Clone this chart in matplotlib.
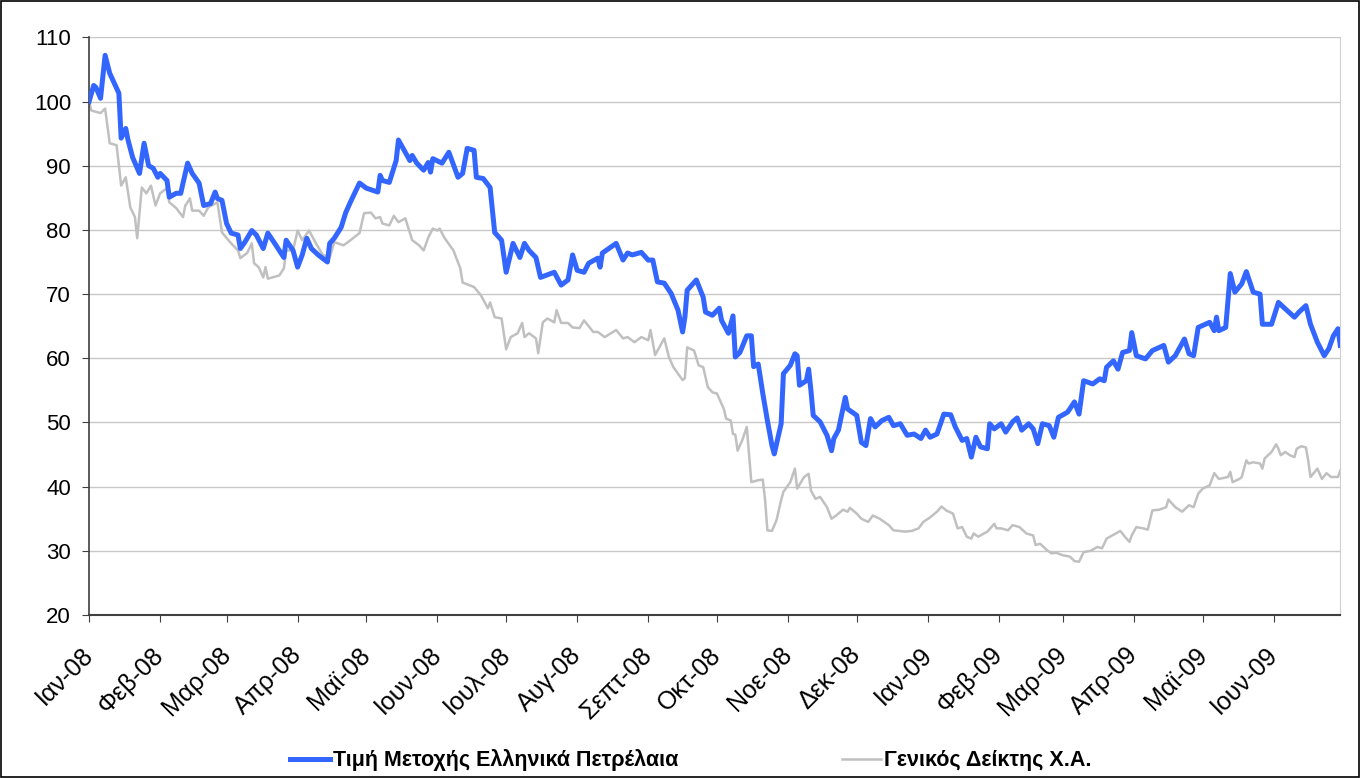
import numpy as np
import pandas as pd
import matplotlib
matplotlib.use("Agg")
from matplotlib import pyplot as plt
import matplotlib.dates as mdates
from matplotlib.patches import Rectangle
from matplotlib.transforms import ScaledTranslation

plt.rcParams['font.family'] = ['Liberation Sans', 'DejaVu Sans']

# days counted from 2008-01-01
start_date = "2008-01-01"
end_date = "2009-06-30"

stock_days = [0, 2, 3, 5, 7, 9, 13, 14, 16, 17, 19, 22, 24, 26, 28, 30, 31, 34, 35, 38,
              40, 41, 43, 45, 48, 50, 53, 55, 56, 58, 60, 62, 65, 66, 68, 71, 73, 76, 78, 81,
              85, 86, 89, 91, 93, 95, 97, 100, 104, 105, 107, 110, 112, 114, 118, 121, 126, 127, 128, 131,
              134, 135, 138, 140, 141, 143, 146, 148, 149, 150, 154, 157, 161, 163, 165, 168, 169, 172, 175, 177,
              180, 182, 185, 188, 190, 192, 195, 197, 203, 206, 209, 211, 213, 216, 218, 222, 223, 224, 230, 233,
              235, 237, 241, 244, 246, 248, 251, 254, 257, 259, 260, 261, 265, 268, 269, 272, 275, 276, 279, 281,
              282, 284, 287, 289, 290, 292, 294, 296, 298, 299, 302, 303, 306, 308, 309, 310, 313, 314, 315, 316,
              319, 322, 324, 325, 327, 330, 331, 335, 337, 339, 341, 343, 346, 349, 351, 354, 357, 360, 363, 365,
              367, 370, 373, 376, 378, 381, 383, 385, 387, 389, 392, 393, 395, 398, 400, 403, 405, 407, 410, 412,
              414, 416, 419, 421, 423, 427, 430, 432, 434, 438, 441, 443, 444, 447, 449, 451, 454, 455, 457, 461,
              464, 469, 471, 474, 478, 480, 482, 484, 489, 491, 492, 493, 496, 498, 500, 503, 505, 508, 511, 512,
              516, 519, 522, 526, 528, 531, 533, 536, 539, 541, 543, 545, 546]
stock_vals = [100, 102.5, 102.2, 100.5, 107.2, 104.4, 101.3, 94.3, 95.8, 94, 91.3, 88.8, 93.5, 90, 89.6, 88.2, 88.8, 87.7, 85.1, 85.7,
              85.7, 87.3, 90.4, 88.8, 87.3, 83.8, 84.1, 85.9, 84.9, 84.6, 81, 79.5, 79.2, 77.1, 78.1, 79.9, 79.2, 77.1, 79.5, 77.9,
              75.7, 78.4, 76.8, 74.2, 76.1, 78.7, 77.1, 76.1, 75, 77.9, 78.7, 80.4, 82.7, 84.3, 87.3, 86.5, 85.9, 88.5, 87.7, 87.4,
              90.8, 94, 92.1, 90.8, 91.6, 90.4, 89.3, 90.5, 89, 91.1, 90.4, 92.1, 88.2, 88.8, 92.7, 92.4, 88.2, 88, 86.6, 79.6,
              78.4, 73.4, 77.9, 75.7, 77.9, 76.8, 75.7, 72.6, 73.4, 71.4, 72.2, 76.1, 73.7, 73.4, 74.8, 75.6, 74.2, 76.4, 77.9, 75.3,
              76.4, 76.1, 76.5, 75.3, 75.3, 71.9, 71.7, 70.1, 67.5, 64.1, 66.4, 70.6, 72.2, 69.5, 67.2, 66.7, 67.8, 65.9, 63.9, 66.6,
              60.2, 60.9, 63.5, 63.5, 58.7, 59.1, 54.5, 50.3, 46.4, 45.1, 49.8, 57.6, 58.9, 60.7, 60.4, 55.8, 56.5, 58.3, 55, 51.1,
              50.1, 48, 45.6, 47.5, 48.8, 53.9, 52.1, 51.1, 46.9, 46.4, 50.6, 49.3, 50.3, 50.8, 49.5, 49.8, 48, 48.2, 47.5, 48.8,
              47.7, 48.2, 51.3, 51.2, 49.3, 47.2, 47.5, 44.6, 47.7, 46.2, 45.9, 49.8, 49, 49.8, 48.5, 50.1, 50.7, 48.8, 49.8, 49,
              46.7, 49.8, 49.5, 47.7, 50.8, 51.6, 53.2, 51.3, 56.5, 56, 56.8, 56.5, 58.6, 59.6, 58.3, 60.9, 61.2, 64, 60.4, 59.9,
              61.2, 62, 59.4, 60.4, 63, 60.7, 60.4, 64.8, 65.6, 64.3, 66.4, 64.3, 64.8, 73.2, 70.3, 71.6, 73.5, 70.3, 70, 65.3,
              65.3, 68.7, 67.7, 66.4, 67.2, 68.2, 65.3, 62.5, 60.4, 61.5, 63.5, 64.6, 62]

index_days = [0, 1, 5, 7, 9, 12, 14, 16, 18, 20, 21, 23, 25, 27, 29, 31, 34, 35, 38, 41,
              42, 44, 45, 48, 50, 52, 56, 58, 62, 65, 66, 69, 71, 72, 74, 76, 77, 78, 83, 85,
              86, 89, 91, 93, 96, 99, 102, 105, 107, 111, 113, 118, 120, 123, 125, 127, 128, 131, 133, 135,
              138, 140, 141, 144, 146, 148, 150, 152, 153, 155, 159, 162, 163, 168, 171, 174, 175, 177, 180, 182,
              184, 187, 189, 190, 192, 195, 196, 198, 200, 203, 204, 206, 209, 211, 214, 216, 220, 222, 225, 230,
              233, 235, 238, 241, 244, 245, 247, 251, 253, 255, 259, 260, 261, 264, 266, 268, 270, 272, 274, 277,
              278, 280, 281, 282, 283, 285, 287, 288, 289, 292, 294, 295, 296, 298, 300, 302, 303, 306, 308, 309,
              312, 314, 315, 317, 319, 322, 324, 326, 329, 331, 332, 335, 337, 340, 342, 345, 349, 351, 356, 359,
              362, 364, 367, 370, 372, 374, 377, 379, 381, 383, 385, 386, 388, 392, 395, 396, 398, 401, 403, 406,
              409, 412, 413, 415, 418, 420, 422, 425, 428, 430, 432, 434, 437, 440, 442, 443, 444, 448, 450, 452,
              454, 455, 457, 460, 462, 464, 467, 470, 471, 474, 477, 480, 482, 484, 486, 489, 491, 493, 497, 498,
              499, 502, 503, 505, 506, 508, 511, 512, 513, 516, 518, 519, 520, 522, 524, 526, 527, 529, 531, 532,
              533, 536, 538, 540, 542, 545, 546]
index_vals = [100, 98.6, 98.2, 98.9, 93.5, 93.2, 86.9, 88.2, 83.5, 82, 78.7, 86.6, 85.7, 86.9, 83.8, 85.7, 86.5, 84.3, 83.4, 82,
              83.8, 84.9, 83, 83, 82.2, 83.5, 84.3, 79.6, 77.9, 76.8, 75.6, 76.4, 77.9, 74.8, 74.2, 72.6, 74.2, 72.4, 72.9, 74,
              76.8, 76.8, 79.9, 78.4, 79.9, 77.9, 76.1, 75.7, 78.1, 77.6, 78.1, 79.5, 82.6, 82.7, 81.8, 82, 81, 80.7, 82.2, 81.2,
              81.8, 79.5, 78.4, 77.6, 76.8, 78.8, 80.2, 79.9, 80.2, 78.8, 76.8, 74, 71.8, 71.1, 69.8, 67.8, 68.7, 66.4, 66.2, 61.4,
              63.3, 63.9, 65.5, 63.3, 63.9, 63.1, 60.8, 65.6, 66.2, 65.6, 67.5, 65.5, 65.5, 64.8, 64.7, 65.9, 64.1, 64.1, 63.3, 64.4,
              63.1, 63.3, 62.5, 63.3, 62.8, 64.4, 60.5, 63.1, 60.2, 58.6, 56.6, 56.9, 61.7, 61.2, 58.9, 58.6, 55.5, 54.7, 54.5, 52.1,
              50.6, 50.3, 48.2, 48.1, 45.6, 47.2, 49.3, 45.1, 40.7, 41, 41.1, 37.9, 33.2, 33.1, 34.8, 37.9, 39.2, 40.7, 42.8, 39.7,
              41.5, 42, 39.4, 38.1, 38.4, 36.8, 35, 35.5, 36.4, 36.1, 36.7, 35.8, 35, 34.5, 35.5, 35, 34, 33.2, 33, 33.1,
              33.5, 34.5, 35.2, 36.1, 36.9, 36.3, 35.8, 33.5, 33.7, 32.2, 31.9, 32.7, 32.2, 33, 34.2, 33.5, 33.5, 33.2, 34, 33.7,
              32.7, 32.4, 30.9, 31.1, 30.1, 29.6, 29.7, 29.3, 29.1, 28.4, 28.3, 29.8, 30, 30.6, 30.4, 31.1, 31.9, 32.7, 33.1, 32.2,
              31.4, 32.4, 33.7, 33.5, 33.3, 36.3, 36.4, 36.8, 38, 36.8, 36.1, 37.1, 36.8, 38.9, 39.7, 40.2, 42.1, 41.2, 41.5, 42.3,
              40.7, 41.2, 41.5, 44.1, 43.6, 43.8, 43.6, 42.8, 44.4, 45.4, 46.6, 45.9, 44.9, 45.4, 44.9, 44.6, 45.9, 46.3, 46.1, 44.1,
              41.5, 42.8, 41.2, 42.1, 41.5, 41.5, 42.5]

stock_label = "Τιμή Μετοχής Ελληνικά Πετρέλαια"
index_label = "Γενικός Δείκτης Χ.Α."
months_gr = ["Ιαν", "Φεβ", "Μαρ", "Απρ", "Μαϊ", "Ιουν", "Ιουλ", "Αυγ", "Σεπτ", "Οκτ", "Νοε", "Δεκ"]

t0 = pd.Timestamp(start_date)
stock_dates = t0 + pd.to_timedelta(stock_days, unit="D")
index_dates = t0 + pd.to_timedelta(index_days, unit="D")

fig = plt.figure(figsize=(13.6, 7.78), dpi=100)
ax = fig.add_axes([0.0655, 0.2095, 0.92, 0.7425])

ax.plot(stock_dates, stock_vals, color="#3366FF", lw=3.6, label=stock_label, zorder=3,
        solid_joinstyle="round")
ax.plot(index_dates, index_vals, color="#C0C0C0", lw=1.8, label=index_label, zorder=2)

ax.set_ylim(20, 110)
ax.set_yticks(np.arange(20, 111, 10))
ax.set_xlim(t0, pd.Timestamp(end_date))
ax.grid(axis="y", color="#C8C8C8", lw=1)
ax.set_axisbelow(True)

ax.xaxis.set_major_locator(mdates.MonthLocator())
ax.xaxis.set_major_formatter(plt.FuncFormatter(
    lambda x, pos: "%s-%s" % (months_gr[mdates.num2date(x).month - 1], mdates.num2date(x).strftime("%y"))))
ax.tick_params(axis="both", direction="out", length=5, color="#404040")
ax.tick_params(axis="y", labelsize=16, pad=8)
ax.tick_params(axis="x", labelsize=18, pad=15)
shift = ScaledTranslation(-6 / 72, 0, fig.dpi_scale_trans)
for lab in ax.get_xticklabels():
    lab.set_rotation(45)
    lab.set_ha("right")
    lab.set_rotation_mode("anchor")
    lab.set_transform(lab.get_transform() + shift)

ax.spines["top"].set_visible(False)
ax.spines["right"].set_color("#D0D0D0")
ax.spines["left"].set_color("#404040")
ax.spines["bottom"].set_color("#404040")
ax.spines["left"].set_linewidth(1.2)
ax.spines["bottom"].set_linewidth(1.5)

fig.legend(loc="center", bbox_to_anchor=(0.508, 0.023), ncol=2, frameon=False,
           prop={"weight": "bold", "size": 15.5}, handlelength=1.85, handletextpad=0.12,
           columnspacing=7.6)

fig.patches.append(Rectangle((0.001, 0.001), 0.998, 0.998, transform=fig.transFigure,
                             fill=False, edgecolor="black", lw=1.2))

fig.savefig("out.png", dpi=100)
